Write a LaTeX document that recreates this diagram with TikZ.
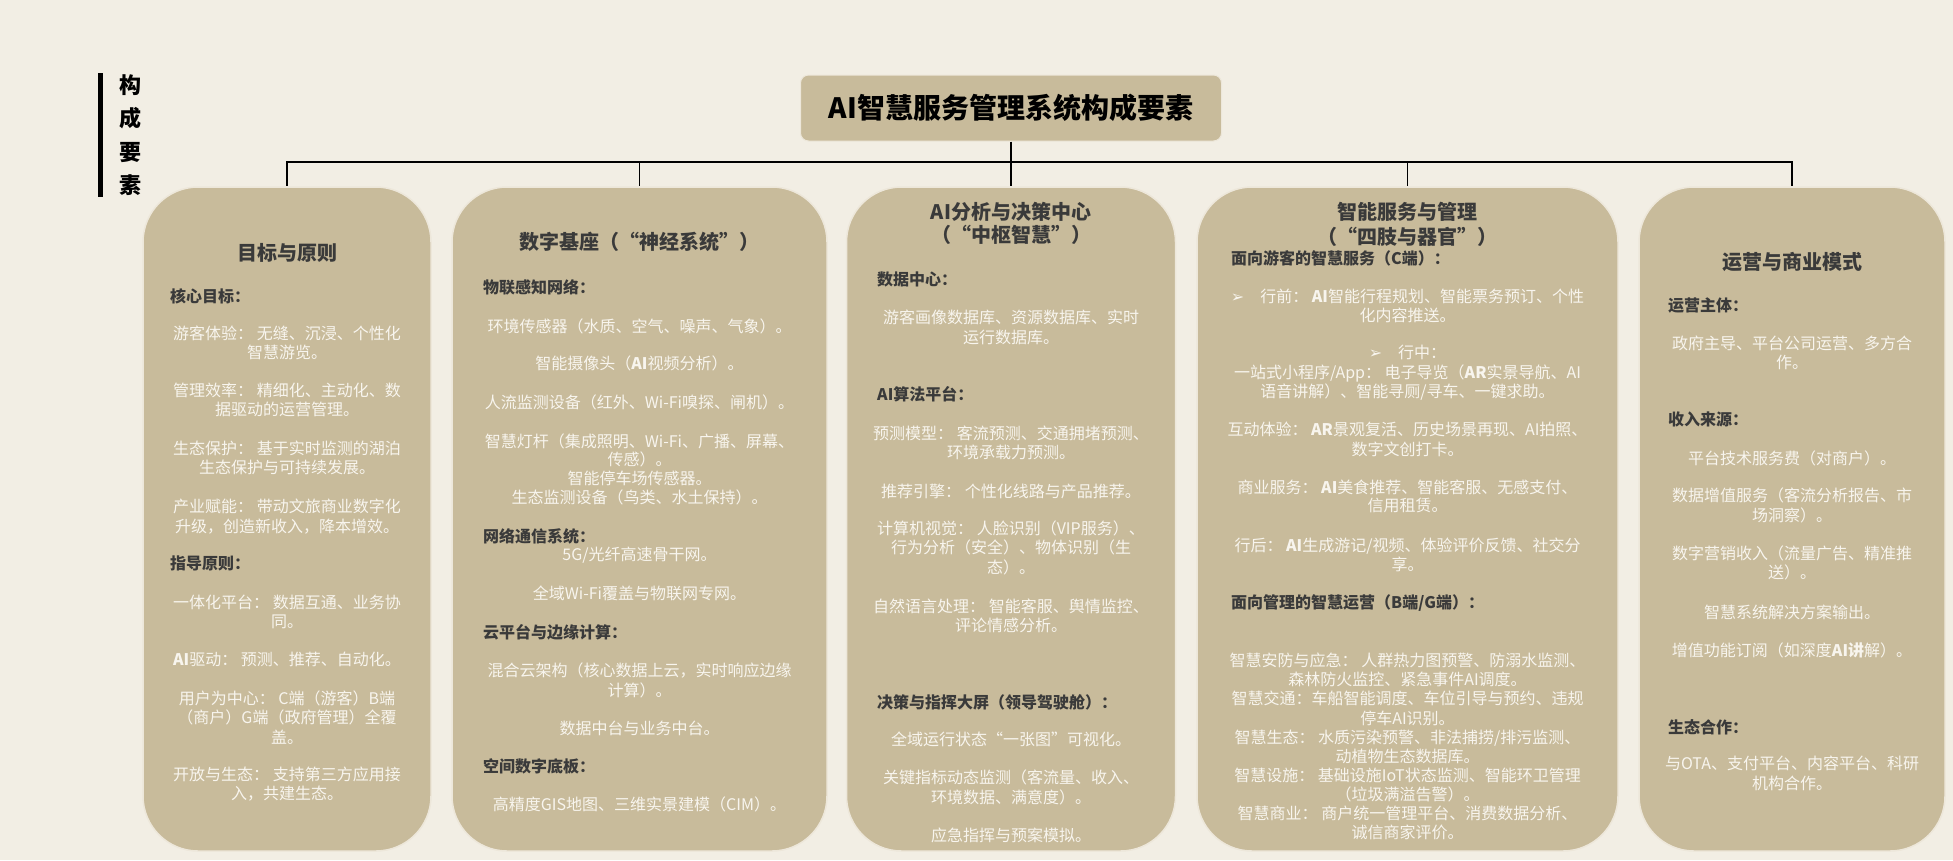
\documentclass[tikz,border=0pt]{standalone}
\usepackage{fontspec}
\setmainfont{Noto Sans CJK SC}
\newfontfamily\dingfont{DejaVu Sans}
\usetikzlibrary{positioning}
\definecolor{paper}{HTML}{F2EEE4}
\definecolor{tan}{HTML}{C8BB9B}
\definecolor{rim}{HTML}{EDE7DA}
\definecolor{ink}{HTML}{3A3A3A}
\definecolor{pale}{HTML}{F8F5EE}

\begin{document}
\begin{tikzpicture}[x=1pt,y=-1pt,
  pillar node/.style={rectangle,rounded corners=55pt,fill=tan,draw=rim,
  line width=1.5pt,inner sep=0pt,minimum height=664pt},
  head node/.style={font=\fontsize{20}{24}\selectfont\bfseries,text=ink,align=center,inner sep=0pt},
  topic node/.style={anchor=west,font=\fontsize{16}{19.5}\selectfont\bfseries,text=ink,inner sep=0pt},
  item node/.style={font=\fontsize{16}{19.5}\selectfont,text=pale,align=center,inner sep=0pt}]

  \fill[paper] (0,0) rectangle (1953,860);

  % side label
  \fill[black] (98,73) rectangle (103,197);
  \node[font=\fontsize{22}{33.5}\selectfont\bfseries,align=center,inner sep=0pt] (side) at (130,135) {构\\成\\要\\素};

  % title and the five pillars
  \node[rectangle,rounded corners=8pt,fill=tan,draw=rim,line width=1pt,
    minimum width=421pt,minimum height=66pt,font=\fontsize{28}{32}\selectfont\bfseries] (T) at (1011,108) {AI智慧服务管理系统构成要素};
  \node[pillar node,minimum width=288pt] (B1) at (287,519) {};
  \node[pillar node,minimum width=375pt] (B2) at (639.5,519) {};
  \node[pillar node,minimum width=329pt] (B3) at (1011,519) {};
  \node[pillar node,minimum width=421pt] (B4) at (1407.5,519) {};
  \node[pillar node,minimum width=306pt] (B5) at (1792,519) {};

  \coordinate (bus) at (1011,162);
  \draw[line width=1.6pt]
    (T.south) -- (bus)
    (bus) -| (B1.north)
    (bus) -| (B2.north)
    (bus) -- (B3.north)
    (bus) -| (B4.north)
    (bus) -| (B5.north);

  % pillar 1
  \node[head node] (H1) at (287,253) {目标与原则};
  \node[topic node] (P1a) at (170,296) {核心目标：};
  \node[item node] (I1a) at (287,343) {游客体验： 无缝、沉浸、个性化\\智慧游览。};
  \node[item node] (I1b) at (287,400) {管理效率： 精细化、主动化、数\\据驱动的运营管理。};
  \node[item node] (I1c) at (287,458) {生态保护： 基于实时监测的湖泊\\生态保护与可持续发展。};
  \node[item node] (I1d) at (287,516.5) {产业赋能： 带动文旅商业数字化\\升级，创造新收入，降本增效。};
  \node[topic node] (P1b) at (170,563) {指导原则：};
  \node[item node] (I1e) at (287,612) {一体化平台： 数据互通、业务协\\同。};
  \node[item node] (I1f) at (287,659) {{\bfseries AI}驱动： 预测、推荐、自动化。};
  \node[item node] (I1g) at (287,717.5) {用户为中心： C端（游客）B端\\（商户）G端（政府管理）全覆\\盖。};
  \node[item node] (I1h) at (287,784) {开放与生态： 支持第三方应用接\\入，共建生态。};

  % pillar 2
  \node[head node] (H2) at (639.5,242) {数字基座（“神经系统”）};
  \node[topic node] (P2a) at (483,287) {物联感知网络：};
  \node[item node] (I2a) at (639.5,326) {环境传感器（水质、空气、噪声、气象）。};
  \node[item node] (I2b) at (639.5,363) {智能摄像头（{\bfseries AI}视频分析）。};
  \node[item node] (I2c) at (639.5,402) {人流监测设备（红外、Wi-Fi嗅探、闸机）。};
  \node[item node,font=\fontsize{16}{18.7}\selectfont] (I2d) at (639.5,469) {智慧灯杆（集成照明、Wi-Fi、广播、屏幕、\\传感）。\\智能停车场传感器。\\生态监测设备（鸟类、水土保持）。};
  \node[topic node] (P2b) at (483,536) {网络通信系统：};
  \node[item node] (I2e) at (639.5,555) {5G/光纤高速骨干网。};
  \node[item node] (I2f) at (639.5,593) {全域Wi-Fi覆盖与物联网专网。};
  \node[topic node] (P2c) at (483,632) {云平台与边缘计算：};
  \node[item node] (I2g) at (639.5,680.5) {混合云架构（核心数据上云，实时响应边缘\\计算）。};
  \node[item node] (I2h) at (639.5,728) {数据中台与业务中台。};
  \node[topic node] (P2d) at (483,766) {空间数字底板：};
  \node[item node] (I2i) at (639.5,804) {高精度GIS地图、三维实景建模（CIM）。};

  % pillar 3
  \node[head node,font=\fontsize{20}{23}\selectfont\bfseries] (H3) at (1011,223.5) {AI分析与决策中心\\（“中枢智慧”）};
  \node[topic node] (P3a) at (877,279) {数据中心：};
  \node[item node] (I3a) at (1011,327.5) {游客画像数据库、资源数据库、实时\\运行数据库。};
  \node[topic node] (P3b) at (877,394) {AI算法平台：};
  \node[item node] (I3b) at (1011,443) {预测模型： 客流预测、交通拥堵预测、\\环境承载力预测。};
  \node[item node] (I3c) at (1011,491) {推荐引擎： 个性化线路与产品推荐。};
  \node[item node] (I3d) at (1011,547.5) {计算机视觉： 人脸识别（VIP服务）、\\行为分析（安全）、物体识别（生\\态）。};
  \node[item node] (I3e) at (1011,616) {自然语言处理： 智能客服、舆情监控、\\评论情感分析。};
  \node[topic node] (P3c) at (877,702) {决策与指挥大屏（领导驾驶舱）：};
  \node[item node] (I3f) at (1011,739) {全域运行状态“一张图”可视化。};
  \node[item node] (I3g) at (1011,787.5) {关键指标动态监测（客流量、收入、\\环境数据、满意度）。};
  \node[item node] (I3h) at (1011,835) {应急指挥与预案模拟。};

  % pillar 4
  \node[head node,font=\fontsize{20}{25}\selectfont\bfseries] (H4) at (1407.5,224.5) {智能服务与管理\\（“四肢与器官”）};
  \node[topic node] (P4a) at (1231,258) {面向游客的智慧服务（C端）：};
  \node[item node] (I4a) at (1407.5,306) {{\dingfont ➢}\quad 行前： {\bfseries AI}智能行程规划、智能票务预订、个性\\化内容推送。};
  \node[item node] (I4b) at (1407.5,372.7) {{\dingfont ➢}\quad 行中：\\一站式小程序/App： 电子导览（{\bfseries AR}实景导航、AI\\语音讲解）、智能寻厕/寻车、一键求助。};
  \node[item node] (I4c) at (1407.5,439.5) {互动体验： {\bfseries AR}景观复活、历史场景再现、AI拍照、\\数字文创打卡。};
  \node[item node,font=\fontsize{16}{18}\selectfont] (I4d) at (1407.5,496) {商业服务： {\bfseries AI}美食推荐、智能客服、无感支付、\\信用租赁。};
  \node[item node] (I4e) at (1407.5,555) {行后： {\bfseries AI}生成游记/视频、体验评价反馈、社交分\\享。};
  \node[topic node] (P4b) at (1231,603) {面向管理的智慧运营（B端/G端）：};
  \node[item node,font=\fontsize{16}{19.1}\selectfont] (I4f) at (1407.5,746.6) {智慧安防与应急： 人群热力图预警、防溺水监测、\\森林防火监控、紧急事件AI调度。\\智慧交通：车船智能调度、车位引导与预约、违规\\停车AI识别。\\智慧生态： 水质污染预警、非法捕捞/排污监测、\\动植物生态数据库。\\智慧设施： 基础设施IoT状态监测、智能环卫管理\\（垃圾满溢告警）。\\智慧商业： 商户统一管理平台、消费数据分析、\\诚信商家评价。};

  % pillar 5
  \node[head node] (H5) at (1792,262) {运营与商业模式};
  \node[topic node] (P5a) at (1668,305) {运营主体：};
  \node[item node] (I5a) at (1792,353) {政府主导、平台公司运营、多方合\\作。};
  \node[topic node] (P5b) at (1668,419) {收入来源：};
  \node[item node] (I5b) at (1792,458) {平台技术服务费（对商户）。};
  \node[item node] (I5c) at (1792,505.5) {数据增值服务（客流分析报告、市\\场洞察）。};
  \node[item node] (I5d) at (1792,563) {数字营销收入（流量广告、精准推\\送）。};
  \node[item node] (I5e) at (1792,612) {智慧系统解决方案输出。};
  \node[item node] (I5f) at (1792,650) {增值功能订阅（如深度{\bfseries AI讲}解）。};
  \node[topic node] (P5c) at (1668,727) {生态合作：};
  \node[item node] (I5g) at (1792,773.5) {与OTA、支付平台、内容平台、科研\\机构合作。};

\end{tikzpicture}
\end{document}
